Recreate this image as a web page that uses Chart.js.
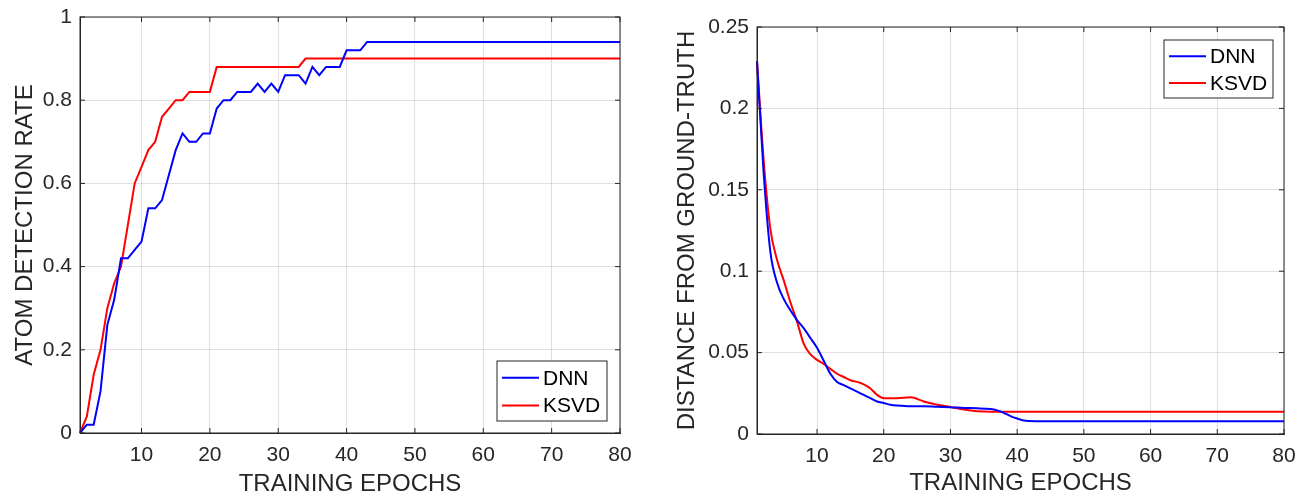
<!DOCTYPE html>
<html>
<head>
<meta charset="utf-8">
<script src="https://cdn.jsdelivr.net/npm/chart.js@4/dist/chart.umd.min.js"></script>
<style>
  body { margin: 0; background: #fff; }
  #wrap { position: relative; width: 1307px; height: 502px; }
  canvas { position: absolute; top: 0; }
  #leftChart { left: 0; }
  #rightChart { left: 650px; }
</style>
</head>
<body>
<div id="wrap">
  <canvas id="leftChart" width="650" height="502"></canvas>
  <canvas id="rightChart" width="657" height="502"></canvas>
</div>
<script>
// data
const seriesNames = ["DNN", "KSVD"];
const xTicks = [10, 20, 30, 40, 50, 60, 70, 80];
const rateTicks = [0, 0.2, 0.4, 0.6, 0.8, 1];
const distTicks = [0, 0.05, 0.1, 0.15, 0.2, 0.25];

// left plot: atom detection rate
const rateEpochsDnn = [1, 2, 3, 4, 5, 6, 7, 8, 9, 10, 11, 12, 13, 14, 15, 16, 17, 18, 19, 20,
  21, 22, 23, 24, 25, 26, 27, 28, 29, 30, 31, 32, 33, 34, 35, 36, 37, 38, 39, 40, 41, 42, 43, 80];
const rateDnn = [0, 0.02, 0.02, 0.10, 0.26, 0.32, 0.42, 0.42, 0.44, 0.46,
  0.54, 0.54, 0.56, 0.62, 0.68, 0.72, 0.70, 0.70, 0.72, 0.72,
  0.78, 0.80, 0.80, 0.82, 0.82, 0.82, 0.84, 0.82, 0.84, 0.82,
  0.86, 0.86, 0.86, 0.84, 0.88, 0.86, 0.88, 0.88, 0.88, 0.92,
  0.92, 0.92, 0.94, 0.94];
const rateEpochsKsvd = [1, 2, 3, 4, 5, 6, 7, 8, 9, 10, 11, 12, 13, 14, 15, 16, 17, 18, 19, 20,
  21, 22, 23, 24, 25, 26, 27, 28, 29, 30, 31, 32, 33, 34, 80];
const rateKsvd = [0, 0.04, 0.14, 0.20, 0.30, 0.36, 0.40, 0.50, 0.60, 0.64,
  0.68, 0.70, 0.76, 0.78, 0.80, 0.80, 0.82, 0.82, 0.82, 0.82,
  0.88, 0.88, 0.88, 0.88, 0.88, 0.88, 0.88, 0.88, 0.88, 0.88,
  0.88, 0.88, 0.88, 0.90, 0.90];

// right plot: distance from ground-truth
const distEpochsDnn = [1, 2, 3, 4, 5, 6, 7, 8, 9, 10, 11, 12, 13, 14, 15, 16, 17, 18, 19, 20,
  21, 22, 24, 26, 28, 30, 32, 34, 36, 37, 38, 39, 40, 41, 43, 50, 80];
const distDnn = [0.229, 0.160, 0.112, 0.093, 0.083, 0.076, 0.070, 0.065, 0.059, 0.053,
  0.045, 0.037, 0.032, 0.030, 0.028, 0.026, 0.024, 0.022, 0.020, 0.019,
  0.018, 0.0175, 0.017, 0.017, 0.0167, 0.0165, 0.016, 0.0158, 0.0153,
  0.0145, 0.013, 0.011, 0.0095, 0.0083, 0.0079, 0.0078, 0.0078];
const distEpochsKsvd = [1, 2, 3, 4, 5, 6, 7, 8, 9, 10, 11, 12, 13, 14, 15, 16, 17, 18, 19, 20,
  22, 24, 26, 28, 30, 32, 34, 36, 40, 80];
const distKsvd = [0.229, 0.168, 0.126, 0.107, 0.0945, 0.081, 0.069, 0.0555, 0.049, 0.0455,
  0.043, 0.040, 0.037, 0.035, 0.033, 0.032, 0.0305, 0.028, 0.024, 0.022,
  0.022, 0.0225, 0.020, 0.018, 0.0166, 0.015, 0.014, 0.0137, 0.0137, 0.0137];

const FONT = "'Liberation Sans', Arial, Helvetica, sans-serif";
const INK = "#262626";
const GRID = "rgba(38,38,38,0.14)";
const COLORS = ["#0000ff", "#ff0000"];

function pairs(xs, ys) {
  return xs.map((x, i) => ({ x: x, y: ys[i] }));
}

// MATLAB style box, inward ticks and legend in the corner
const matlabBox = {
  id: "matlabBox",
  afterDatasetsDraw(chart, args, opts) {
    const ctx = chart.ctx;
    const a = chart.chartArea;
    const xs = chart.scales.x, ys = chart.scales.y;
    ctx.save();
    ctx.strokeStyle = INK;
    ctx.lineWidth = 1;
    ctx.strokeRect(a.left, a.top, a.right - a.left, a.bottom - a.top);
    ctx.beginPath();
    xs.ticks.forEach(t => {
      const px = xs.getPixelForValue(t.value);
      ctx.moveTo(px, a.bottom); ctx.lineTo(px, a.bottom - 5);
      ctx.moveTo(px, a.top); ctx.lineTo(px, a.top + 5);
    });
    ys.ticks.forEach(t => {
      const py = ys.getPixelForValue(t.value);
      ctx.moveTo(a.left, py); ctx.lineTo(a.left + 5, py);
      ctx.moveTo(a.right, py); ctx.lineTo(a.right - 5, py);
    });
    ctx.stroke();

    // legend
    const w = opts.w, h = opts.h;
    const lx = a.right - opts.right - w;
    const ly = opts.top != null ? a.top + opts.top : a.bottom - opts.bottom - h;
    ctx.fillStyle = "#fff";
    ctx.fillRect(lx, ly, w, h);
    ctx.strokeStyle = INK;
    ctx.strokeRect(lx, ly, w, h);
    const rows = [0.28, 0.74];
    chart.data.datasets.forEach((ds, i) => {
      const ry = ly + h * rows[i];
      ctx.strokeStyle = ds.borderColor;
      ctx.lineWidth = 2;
      ctx.beginPath();
      ctx.moveTo(lx + 5, ry);
      ctx.lineTo(lx + 42, ry);
      ctx.stroke();
      ctx.fillStyle = "#000";
      ctx.font = "21px " + FONT;
      ctx.textBaseline = "middle";
      ctx.textAlign = "left";
      ctx.fillText(ds.label, lx + 46, ry + 1);
    });
    ctx.restore();
  }
};

function makeChart(id, s) {
  const ctx = document.getElementById(id).getContext("2d");
  return new Chart(ctx, {
    type: "line",
    data: {
      datasets: s.series.map((d, i) => ({
        label: seriesNames[i],
        data: d,
        borderColor: COLORS[i],
        borderWidth: 2,
        pointRadius: 0,
        fill: false,
        tension: s.smooth ? 0.4 : 0,
        cubicInterpolationMode: s.smooth ? "monotone" : "default",
        clip: 3
      }))
    },
    options: {
      responsive: false,
      animation: false,
      layout: { padding: { top: s.padTop, right: s.padRight, left: 0, bottom: 0 } },
      plugins: {
        legend: { display: false },
        tooltip: { enabled: false },
        matlabBox: s.legend
      },
      scales: {
        x: {
          type: "linear",
          min: 1,
          max: 80,
          afterBuildTicks: sc => { sc.ticks = xTicks.map(v => ({ value: v })); },
          afterFit: sc => { sc.height = s.xHeight; sc.paddingLeft = 0; sc.paddingRight = 0; },
          grid: { color: GRID, drawTicks: false },
          border: { color: INK },
          ticks: {
            color: INK, padding: 10, maxRotation: 0, autoSkip: false,
            font: { family: FONT, size: 21 },
            callback: v => String(v)
          },
          title: {
            display: true, text: "TRAINING EPOCHS", color: INK,
            font: { family: FONT, size: 24 },
            padding: { top: 0, bottom: s.xTitlePad }
          }
        },
        y: {
          type: "linear",
          min: 0,
          max: s.yMax,
          afterBuildTicks: sc => { sc.ticks = s.yTicks.map(v => ({ value: v })); },
          afterFit: sc => { sc.width = s.yWidth; sc.paddingTop = 0; sc.paddingBottom = 0; },
          grid: { color: GRID, drawTicks: false },
          border: { color: INK },
          ticks: {
            color: INK, padding: 8, autoSkip: false,
            font: { family: FONT, size: 21 },
            callback: v => String(v)
          },
          title: {
            display: true, text: s.yTitle, color: INK,
            font: { family: FONT, size: 24 },
            padding: { top: s.yTitlePad, bottom: 0 }
          }
        }
      }
    },
    plugins: [matlabBox]
  });
}

makeChart("leftChart", {
  series: [pairs(rateEpochsDnn, rateDnn), pairs(rateEpochsKsvd, rateKsvd)],
  smooth: false,
  yMax: 1,
  yTicks: rateTicks,
  yTitle: "ATOM DETECTION RATE",
  padTop: 17,
  padRight: 30,
  xHeight: 69,
  yWidth: 80,
  xTitlePad: 3,
  yTitlePad: 11,
  legend: { w: 110, h: 60, right: 13, bottom: 12 }
});

makeChart("rightChart", {
  series: [pairs(distEpochsDnn, distDnn), pairs(distEpochsKsvd, distKsvd)],
  smooth: true,
  yMax: 0.25,
  yTicks: distTicks,
  yTitle: "DISTANCE FROM GROUND-TRUTH",
  padTop: 27,
  padRight: 23,
  xHeight: 68,
  yWidth: 107,
  xTitlePad: 4,
  yTitlePad: 23,
  legend: { w: 109, h: 58, right: 11, top: 13 }
});
</script>
</body>
</html>
